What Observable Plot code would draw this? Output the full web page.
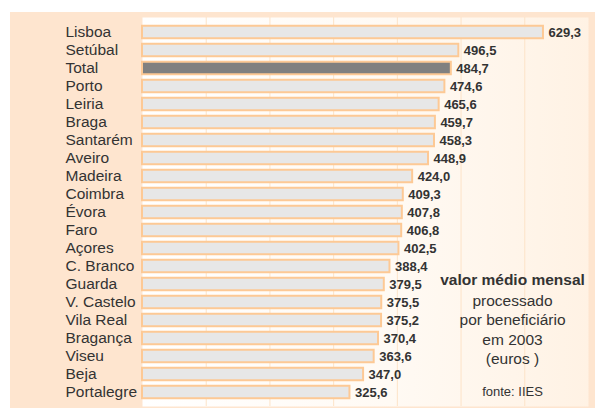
<!DOCTYPE html>
<html>
<head>
<meta charset="utf-8">
<script src="https://cdn.jsdelivr.net/npm/d3@7"></script>
<script src="https://cdn.jsdelivr.net/npm/@observablehq/plot@0.6"></script>
<style>
  html, body { margin: 0; padding: 0; background: #ffffff; }
  #wrap { position: relative; width: 595px; height: 408px; overflow: hidden; }
  #peach { position: absolute; left: 10px; top: 12px; width: 585px; height: 396px; background: #fee5cf; }
  #chart { position: absolute; left: 0; top: 0; }
  svg { font-family: "Liberation Sans", Arial, sans-serif; }
</style>
</head>
<body>
<div id="wrap"><div id="peach"></div><div id="chart"></div></div>
<script>
const regions = ["Lisboa","Setúbal","Total","Porto","Leiria","Braga","Santarém","Aveiro","Madeira","Coimbra","Évora","Faro","Açores","C. Branco","Guarda","V. Castelo","Vila Real","Bragança","Viseu","Beja","Portalegre"];
const values = [629.3,496.5,484.7,474.6,465.6,459.7,458.3,448.9,424.0,409.3,407.8,406.8,402.5,388.4,379.5,375.5,375.2,370.4,363.6,347.0,325.6];
const highlight = "Total";
const gridTicks = [100,200,300,400,500,600];
const noteLines = ["valor médio mensal","processado","por beneficiário","em 2003","(euros )"];
const noteSource = "fonte: IIES";

const data = regions.map((r, i) => ({region: r, value: values[i], label: values[i].toFixed(1).replace(".", ",")}));
const noteDy = [-126, -105, -86, -66, -47];

function gradientDefs() {
  const ns = "http://www.w3.org/2000/svg";
  const defs = document.createElementNS(ns, "defs");
  defs.innerHTML = '<linearGradient id="plotbg" x1="0" x2="1" y1="0" y2="0">' +
    '<stop offset="0" stop-color="#ffffff"/><stop offset="0.55" stop-color="#fffaf4"/><stop offset="1" stop-color="#fff2e4"/></linearGradient>';
  return defs;
}

const noteMarks = noteLines.map((t, i) => Plot.text([t], {
  text: d => d, frameAnchor: "bottom-right", textAnchor: "middle", lineAnchor: "middle",
  dx: -76, dy: noteDy[i], fontSize: 15.5, fontWeight: i === 0 ? "bold" : "normal", fill: "#333333"
}));

const chart = Plot.plot({
  width: 595,
  height: 408,
  marginLeft: 142,
  marginRight: 7,
  marginTop: 17,
  marginBottom: 2,
  style: {background: "transparent", fontFamily: "'Liberation Sans', Arial, sans-serif"},
  x: {domain: [0, 700], axis: null},
  y: {domain: regions, axis: null, padding: 0},
  marks: [
    gradientDefs,
    Plot.frame({fill: "url(#plotbg)", stroke: "none"}),
    Plot.gridX(gridTicks, {stroke: "#fde3c8", strokeOpacity: 1, strokeWidth: 1}),
    Plot.barX(data, {
      x: "value", y: "region",
      fill: d => d.region === highlight ? "#808080" : "#e7e7e7",
      stroke: "#fdc995", strokeWidth: 2,
      insetTop: 2.75, insetBottom: 2.75
    }),
    Plot.text(data, {
      y: "region", text: "region", frameAnchor: "left", textAnchor: "start",
      dx: -77, fontSize: 15.5, fill: "#333333"
    }),
    Plot.text(data, {
      x: "value", y: "region", text: "label", textAnchor: "start",
      dx: 5, fontSize: 13, fontWeight: "bold", fill: "#333333"
    }),
    ...noteMarks,
    Plot.text([noteSource], {
      text: d => d, frameAnchor: "bottom-right", textAnchor: "middle", lineAnchor: "middle",
      dx: -76, dy: -15, fontSize: 13, fill: "#333333"
    })
  ]
});
document.getElementById("chart").appendChild(chart);
</script>
</body>
</html>
